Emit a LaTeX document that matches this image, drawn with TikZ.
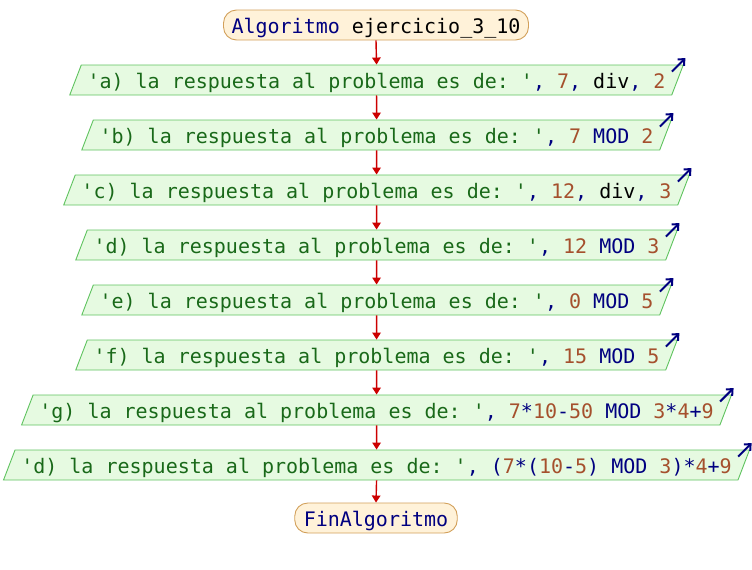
\documentclass[tikz,border=0pt]{standalone}
\usepackage{fontspec}
\setmonofont{DejaVu Sans Mono}
\usetikzlibrary{shapes.geometric,arrows.meta,calc}

\definecolor{strc}{RGB}{25,105,25}
\definecolor{numc}{RGB}{165,80,45}
\definecolor{kwc}{RGB}{0,0,128}
\definecolor{iofill}{RGB}{230,250,225}
\definecolor{iodraw}{RGB}{95,195,95}
\definecolor{termfill}{RGB}{255,242,217}
\definecolor{termdraw}{RGB}{210,160,90}
\definecolor{flowc}{RGB}{204,0,0}

\newcommand\cstr[1]{\textcolor{strc}{#1}}
\newcommand\cnum[1]{\textcolor{numc}{#1}}
\newcommand\ckw[1]{\textcolor{kwc}{#1}}

\tikzset{
  x=1pt, y=1pt,
  every node/.style={font=\ttfamily\fontsize{20}{24}\selectfont, text height=23pt, text depth=7pt, inner ysep=0pt},
  term/.style={draw=termdraw, fill=termfill, line width=0.9pt, rounded corners=13pt, inner xsep=8pt},
  outbox/.style={trapezium, trapezium left angle=69, trapezium right angle=111,
    draw=iodraw, fill=iofill, line width=0.9pt, inner xsep=6.25pt},
  flow/.style={draw=flowc, line width=1.4pt, -{Triangle[length=7pt,width=8.5pt]}},
  outmark/.style={draw=kwc, line width=2pt, -{Straight Barb[length=5pt,width=9pt]}}
}

\begin{document}
\begin{tikzpicture}
\useasboundingbox (0,0) rectangle (752,-570);

\node[term] (start) at (376,-25) {\ckw{Algoritmo} ejercicio\_3\_10};

\node[outbox] (oa) at (376.5,-80)  {\cstr{'a) la respuesta al problema es de: '}\ckw{,} \cnum{7}\ckw{,} div\ckw{,} \cnum{2}};
\node[outbox] (ob) at (376.5,-135) {\cstr{'b) la respuesta al problema es de: '}\ckw{,} \cnum{7} \ckw{MOD} \cnum{2}};
\node[outbox] (oc) at (376.5,-190) {\cstr{'c) la respuesta al problema es de: '}\ckw{,} \cnum{12}\ckw{,} div\ckw{,} \cnum{3}};
\node[outbox] (od) at (376.5,-245) {\cstr{'d) la respuesta al problema es de: '}\ckw{,} \cnum{12} \ckw{MOD} \cnum{3}};
\node[outbox] (oe) at (376.5,-300) {\cstr{'e) la respuesta al problema es de: '}\ckw{,} \cnum{0} \ckw{MOD} \cnum{5}};
\node[outbox] (of) at (376.5,-355) {\cstr{'f) la respuesta al problema es de: '}\ckw{,} \cnum{15} \ckw{MOD} \cnum{5}};
\node[outbox] (og) at (376.5,-410) {\cstr{'g) la respuesta al problema es de: '}\ckw{,} \cnum{7}\ckw{*}\cnum{10}\ckw{-}\cnum{50} \ckw{MOD} \cnum{3}\ckw{*}\cnum{4}\ckw{+}\cnum{9}};
\node[outbox] (oh) at (376.5,-465) {\cstr{'d) la respuesta al problema es de: '}\ckw{,} \ckw{(}\cnum{7}\ckw{*(}\cnum{10}\ckw{-}\cnum{5}\ckw{)} \ckw{MOD} \cnum{3}\ckw{)*}\cnum{4}\ckw{+}\cnum{9}};

\node[term, inner xsep=9pt] (stop) at (376,-518) {\ckw{FinAlgoritmo}};

% flow of control
\draw[flow] (start.south) -- (oa.north);
\draw[flow] (oa.south) -- (ob.north);
\draw[flow] (ob.south) -- (oc.north);
\draw[flow] (oc.south) -- (od.north);
\draw[flow] (od.south) -- (oe.north);
\draw[flow] (oe.south) -- (of.north);
\draw[flow] (of.south) -- (og.north);
\draw[flow] (og.south) -- (oh.north);
\draw[flow] (oh.south) -- (stop.north);

% output markers on each write block
\foreach \n in {oa,ob,oc,od,oe,of,og,oh}
  \draw[outmark] ($(\n.top right corner)+(-12,-7)$) -- ($(\n.top right corner)+(1.5,6.5)$);
\end{tikzpicture}
\end{document}
